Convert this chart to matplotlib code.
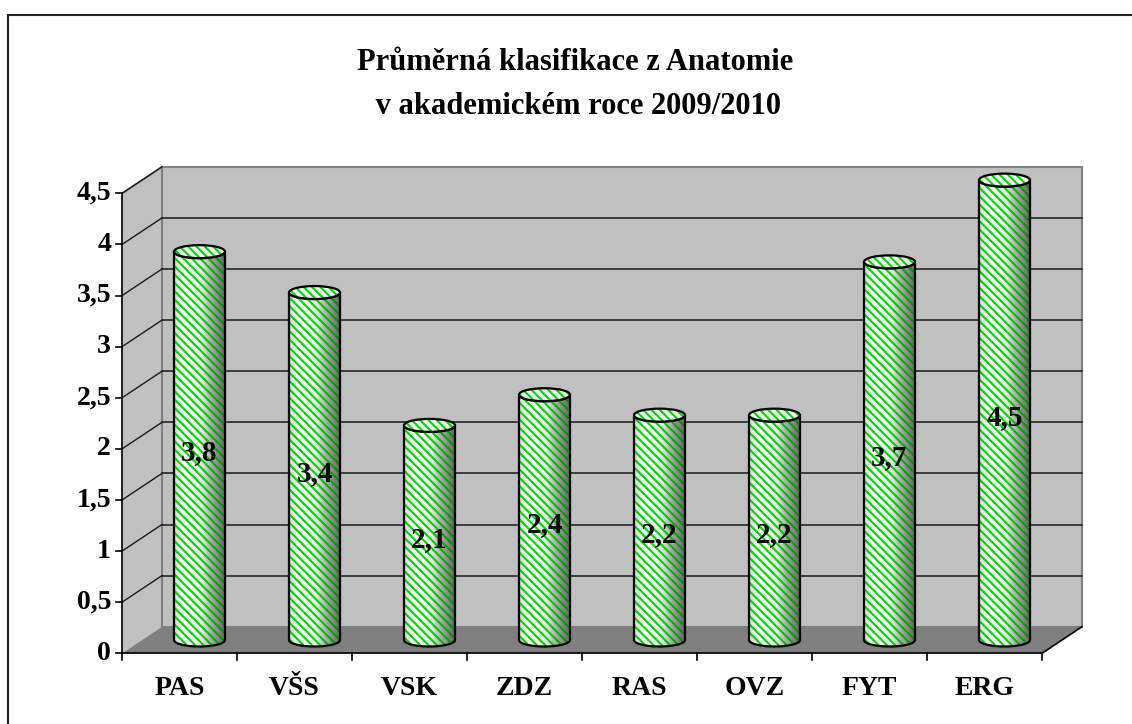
import numpy as np
import matplotlib
matplotlib.use("Agg")
import matplotlib.pyplot as plt
from matplotlib.patches import Polygon, Ellipse, Rectangle
from matplotlib.colors import LinearSegmentedColormap

# data
categories = ['PAS', 'VŠS', 'VSK', 'ZDZ', 'RAS', 'OVZ', 'FYT', 'ERG']
values = [3.8, 3.4, 2.1, 2.4, 2.2, 2.2, 3.7, 4.5]
yticks = [0, 0.5, 1, 1.5, 2, 2.5, 3, 3.5, 4, 4.5]
ytick_labels = ['0', '0,5', '1', '1,5', '2', '2,5', '3', '3,5', '4', '4,5']
title1 = 'Průměrná klasifikace z Anatomie'
title2 = ' v akademickém roce 2009/2010'

plt.rcParams['font.family'] = ['Liberation Serif', 'DejaVu Serif']
plt.rcParams['hatch.linewidth'] = 1.5

W, H = 1132, 724
fig = plt.figure(figsize=(W / 100, H / 100), dpi=100)
ax = fig.add_axes([0, 0, 1, 1])
ax.axis('off')

# pixel layout of the category/value plane
x0, xs = 122, 115.0     # px of x=0, px per category
y0, ys = 653.3, 102.2   # px of value 0, px per unit
ax.set_xlim(-x0 / xs, (W - x0) / xs)
ax.set_ylim((y0 - H) / ys, y0 / ys)

DX = 40 / xs      # depth offset
DY = 26.6 / ys
n = len(categories)
vmax = yticks[-1]

# outer frame
fig.patches.append(Rectangle((8 / W, -0.1), 1.2, (H - 15) / H + 0.1,
                             transform=fig.transFigure, fill=False,
                             edgecolor='#202020', linewidth=1.5))

# walls and floor
ax.add_patch(Polygon([(0, 0), (DX, DY), (DX, vmax + DY), (0, vmax)],
                     closed=True, facecolor='#c0c0c0', edgecolor='none', zorder=1))
ax.add_patch(Rectangle((DX, DY), n, vmax, facecolor='#c0c0c0',
                       edgecolor='#808080', linewidth=1.5, zorder=1))
ax.add_patch(Polygon([(0, 0), (DX, DY), (n + DX, DY), (n, 0)],
                     closed=True, facecolor='#808080', edgecolor='none', zorder=2))
ax.plot([0, DX], [vmax, vmax + DY], color='#808080', lw=1.3, zorder=2)

# gridlines on back wall + diagonal lines on side wall
for t in yticks[1:-1]:
    ax.plot([DX, n + DX], [t + DY, t + DY], color='#1a1a1a', lw=1.1, zorder=2)
for t in yticks[1:]:
    ax.plot([0, DX], [t, t + DY], color='#1a1a1a', lw=1.0, zorder=2)

# axes lines and ticks
ax.plot([0, 0], [0, vmax], color='black', lw=1.2, zorder=3)
ax.plot([0, n], [0, 0], color='black', lw=1.2, zorder=3)
ax.plot([n, n + DX], [0, DY], color='black', lw=1.2, zorder=3)
for t, lab in zip(yticks, ytick_labels):
    ax.plot([-6 / xs, 0], [t, t], color='black', lw=1.2, zorder=3)
    ax.text(-11 / xs, t, lab, ha='right', va='center', fontsize=20,
            fontweight='bold', zorder=3)
for k in range(n + 1):
    ax.plot([k, k], [0, -7 / ys], color='black', lw=1.2, zorder=3)
for i, c in enumerate(categories):
    ax.text(i + 0.5, -35 / ys, c, ha='center', va='center', fontsize=20,
            fontweight='bold', zorder=3)

# cylinders
a = 25.5 / xs
b = 6.5 / ys
base = DY / 2
shade = LinearSegmentedColormap.from_list(
    'shade', [(0, '#d8d8d8'), (0.22, '#ffffff'), (0.55, '#e6e6e6'), (1, '#a0a0a0')])
dark = np.zeros((2, 100, 4))
dark[..., 3] = np.clip((np.linspace(0, 1, 100) - 0.55) / 0.45, 0, 1) * 0.35
grad = np.tile(np.linspace(0, 1, 100), (2, 1))
green = '#00d400'

for i, v in enumerate(values):
    cx = i + 0.5 + DX / 2
    top = base + v
    t1 = np.linspace(np.pi, 2 * np.pi, 40)
    t2 = np.linspace(2 * np.pi, np.pi, 40)
    pts = np.vstack([
        np.column_stack([cx + a * np.cos(t1), base + b * np.sin(t1)]),
        np.column_stack([cx + a * np.cos(t2), top + b * np.sin(t2)]),
    ])
    body = Polygon(pts, closed=True, facecolor='none', edgecolor='none', zorder=4)
    ax.add_patch(body)
    ext = [cx - a, cx + a, base - b, top + b]
    im = ax.imshow(grad, cmap=shade, extent=ext, aspect='auto', zorder=4,
                   interpolation='bilinear')
    im.set_clip_path(body)
    ax.add_patch(Polygon(pts, closed=True, facecolor='none', edgecolor=green,
                         hatch='\\\\\\\\', linewidth=0, zorder=5))
    im2 = ax.imshow(dark, extent=ext, aspect='auto', zorder=5.5,
                    interpolation='bilinear')
    im2.set_clip_path(body)
    ax.add_patch(Polygon(pts, closed=True, facecolor='none', edgecolor='black',
                         linewidth=1.6, zorder=6))
    # top face
    ax.add_patch(Ellipse((cx, top), 2 * a, 2 * b, facecolor='#f2f2f2',
                         edgecolor='none', zorder=6))
    ax.add_patch(Ellipse((cx, top), 2 * a, 2 * b, facecolor='none',
                         edgecolor=green, hatch='\\\\\\\\', linewidth=0, zorder=6.5))
    ax.add_patch(Ellipse((cx, top), 2 * a, 2 * b, facecolor='none',
                         edgecolor='black', linewidth=1.6, zorder=7))
    ax.text(cx, base + v / 2 - 7 / ys, f'{v:.1f}'.replace('.', ','),
            ha='center', va='center', fontsize=21, fontweight='bold', zorder=8)

# title
fig.text(575 / W, 1 - 63 / H, title1, ha='center', va='center',
         fontsize=22, fontweight='bold')
fig.text(575 / W, 1 - 106 / H, title2, ha='center', va='center',
         fontsize=22, fontweight='bold')

fig.savefig('out.png', dpi=100)
